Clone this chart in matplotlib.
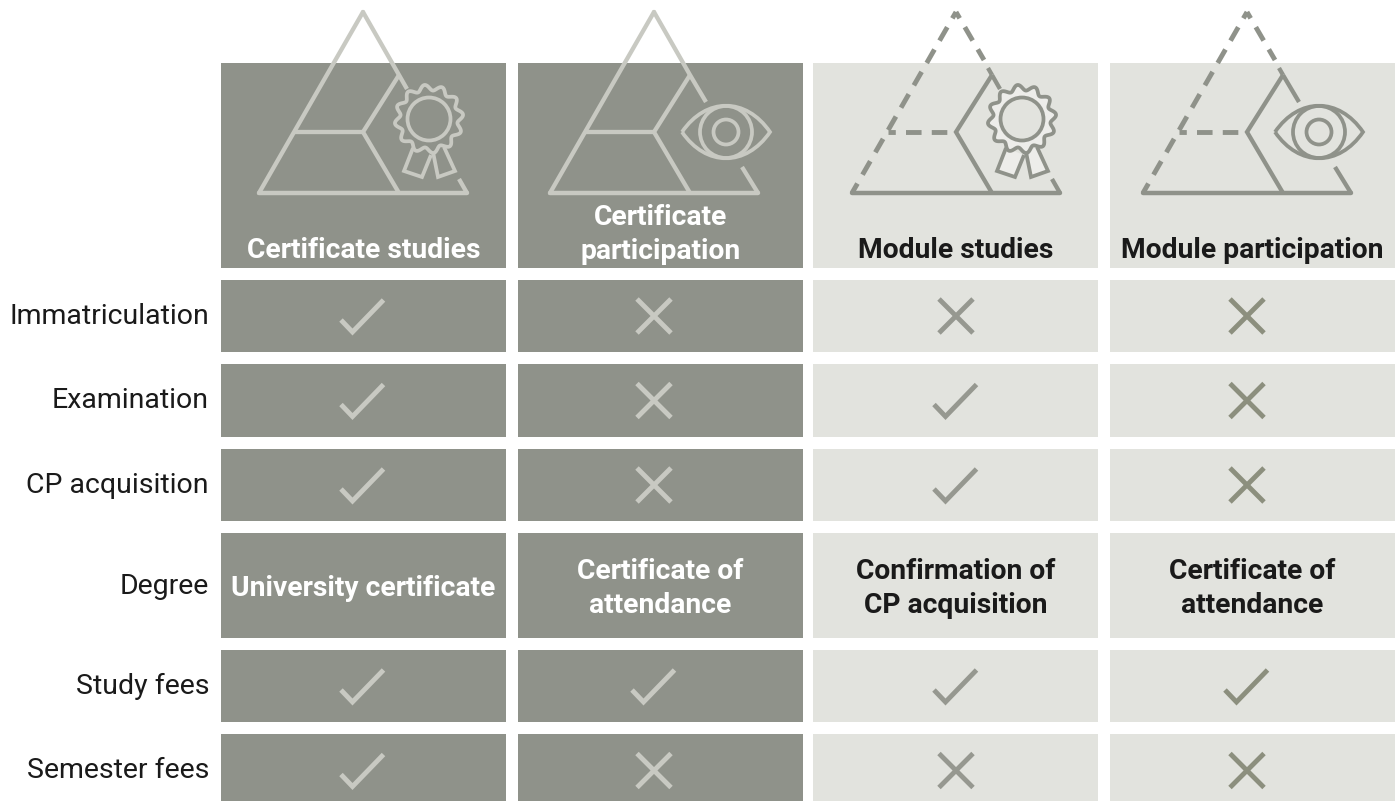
import numpy as np
import matplotlib
matplotlib.use("Agg")
import matplotlib.pyplot as plt
from matplotlib.patches import Rectangle, Polygon, Circle, PathPatch
from matplotlib.path import Path

plt.rcParams["font.family"] = ["Roboto", "DejaVu Sans"]

# table content
columns = ["Certificate studies", "Certificate\nparticipation", "Module studies", "Module participation"]
rows = ["Immatriculation", "Examination", "CP acquisition", "Degree", "Study fees", "Semester fees"]
immatriculation = [1, 0, 0, 0]
examination = [1, 0, 1, 0]
cp_acquisition = [1, 0, 1, 0]
degree = ["University certificate", "Certificate of\nattendance", "Confirmation of\nCP acquisition", "Certificate of\nattendance"]
study_fees = [1, 1, 1, 1]
semester_fees = [1, 0, 0, 0]
cell_values = [immatriculation, examination, cp_acquisition, degree, study_fees, semester_fees]

# layout in pixels
col_left = [221, 518, 813, 1110]
col_w = 285
head_top, head_bot = 63, 268
row_top = [280, 364, 449, 533, 650, 734]
row_bot = [352, 437, 521, 638, 722, 807]  # last row runs off the bottom edge
apex_x = [363, 654, 956, 1247]

DARK = "#8f928a"
LIGHT = "#e2e3de"
ICON_LIGHT = "#c8c9c2"
ICON_DARK = "#8f928a"
TEXT_DARK = "#1a1a1a"
mark_colors = ["#c8c9c2", "#c8c9c2", "#969890", "#8c8f7e"]

LW = 3.1
DASH_LW = 3.5
DASH = (3.2, 2.1)

fig = plt.figure(figsize=(14, 8.01), dpi=100)
ax = fig.add_axes([0, 0, 1, 1])
ax.set_xlim(0, 1400)
ax.set_ylim(801, 0)
ax.axis("off")


def seg(pts, color, lw=LW, offset=None, cap="round", z=3):
    xs = [p[0] for p in pts]
    ys = [p[1] for p in pts]
    if offset is not None:
        ax.plot(xs, ys, color=color, lw=DASH_LW, linestyle=(offset, DASH), dash_capstyle="butt", zorder=z)
    else:
        ax.plot(xs, ys, color=color, lw=lw, solid_capstyle=cap, solid_joinstyle="miter", zorder=z)


def draw_badge(cx, cy, color, fill_outer=None, fill_inner=None):
    # scalloped seal with 12 lobes
    t = np.linspace(0, 2 * np.pi, 361)
    r = 31.5 + 2.8 * np.cos(12 * t + np.pi / 2)
    ax.fill(cx + r * np.cos(t), cy + r * np.sin(t), facecolor=fill_outer or "none",
            edgecolor=color, lw=2.7, zorder=4)
    ax.add_patch(Circle((cx, cy), 21.5, facecolor=fill_inner or "none", edgecolor=color, lw=2.7, zorder=5))
    # ribbons
    left = [(cx - 16, cy + 29), (cx - 25, cy + 52), (cx - 7, cy + 58), (cx + 2, cy + 36)]
    right = [(cx + 4, cy + 33), (cx + 9, cy + 58), (cx + 26, cy + 52), (cx + 15, cy + 28)]
    for poly in (left, right):
        ax.add_patch(Polygon(poly, closed=False, facecolor=fill_outer or "none", edgecolor=color,
                             lw=2.7, joinstyle="miter", zorder=3))


def draw_eye(cx, cy, color):
    verts = [(cx - 44, cy), (cx - 20, cy - 35), (cx + 20, cy - 35), (cx + 44, cy),
             (cx + 20, cy + 35), (cx - 20, cy + 35), (cx - 44, cy)]
    codes = [Path.MOVETO, Path.CURVE4, Path.CURVE4, Path.CURVE4, Path.CURVE4, Path.CURVE4, Path.CURVE4]
    ax.add_patch(PathPatch(Path(verts, codes), facecolor="none", edgecolor=color, lw=2.7, zorder=4))
    ax.add_patch(Circle((cx, cy), 26, facecolor="none", edgecolor=color, lw=2.7, zorder=4))
    ax.add_patch(Circle((cx, cy), 12.5, facecolor="none", edgecolor=color, lw=2.7, zorder=4))


def draw_icon(ax_x, kind, color, dashed):
    y_top, y_mid, y_bot = 12, 132, 193
    bl = (ax_x - 104, y_bot)
    br = (ax_x + 104, y_bot)
    apex = (ax_x, y_top)
    knee = (ax_x + 36, 75)
    start = 1.7 if dashed else None
    seg([apex, bl], color, offset=start)
    seg([(ax_x - 68, y_mid), (ax_x, y_mid)], color, offset=start)
    if dashed:
        seg([apex, (ax_x + 28, 60)], color, offset=start)
        seg([(ax_x + 32, 68), knee], color, cap="butt")
    else:
        seg([apex, knee], color)
    seg([knee, (ax_x, y_mid), (ax_x + 36, y_bot)], color, cap="butt")
    seg([bl, br], color, lw=3.2)
    if kind == "badge":
        seg([knee, (ax_x + 44, 89)], color, cap="butt")
        seg([(ax_x + 96, 179), br], color, cap="butt")
        fills = ("#ededea", "#e2e3de") if dashed else (None, None)
        draw_badge(ax_x + 66, 119, color, *fills)
    else:
        seg([knee, (ax_x + 52, 102)], color, cap="butt")
        seg([(ax_x + 88, 167), br], color, cap="butt")
        draw_eye(ax_x + 72, 132, color)


def draw_check(cx, cy, color):
    seg([(cx - 22, cy + 4), (cx - 10.5, cy + 16), (cx + 20.5, cy - 16)], color, lw=3.5, cap="butt")


def draw_cross(cx, cy, color):
    seg([(cx - 17, cy - 17), (cx + 17, cy + 17)], color, lw=3.5, cap="butt")
    seg([(cx - 17, cy + 17), (cx + 17, cy - 17)], color, lw=3.5, cap="butt")


for c, name in enumerate(columns):
    is_dark = c < 2
    face = DARK if is_dark else LIGHT
    txt = "white" if is_dark else TEXT_DARK
    icon = ICON_LIGHT if is_dark else ICON_DARK
    ax.add_patch(Rectangle((col_left[c], head_top), col_w, head_bot - head_top, facecolor=face, zorder=1))
    draw_icon(apex_x[c], "badge" if c % 2 == 0 else "eye", icon, dashed=not is_dark)
    ax.text(col_left[c] + col_w / 2, 251 if "\n" not in name else 234.5, name, ha="center", va="center",
            fontsize=20.3, fontweight="bold", color=txt, linespacing=1.3, zorder=6)

    for r, label in enumerate(rows):
        ax.add_patch(Rectangle((col_left[c], row_top[r]), col_w, row_bot[r] - row_top[r], facecolor=face, zorder=1))
        val = cell_values[r][c]
        cy = (row_top[r] + row_bot[r]) / 2
        if isinstance(val, str):
            ax.text(col_left[c] + col_w / 2, cy + 3, val, ha="center", va="center", fontsize=20.3,
                    fontweight="bold", color=txt, linespacing=1.3, zorder=6)
        elif val:
            draw_check(apex_x[c], cy, mark_colors[c])
        else:
            draw_cross(apex_x[c], cy, mark_colors[c])

for r, label in enumerate(rows):
    cy = (row_top[r] + row_bot[r]) / 2
    ax.text(209, cy + 0.5, label, ha="right", va="center", fontsize=20.5, color=TEXT_DARK)

fig.savefig("out.png", dpi=100)
